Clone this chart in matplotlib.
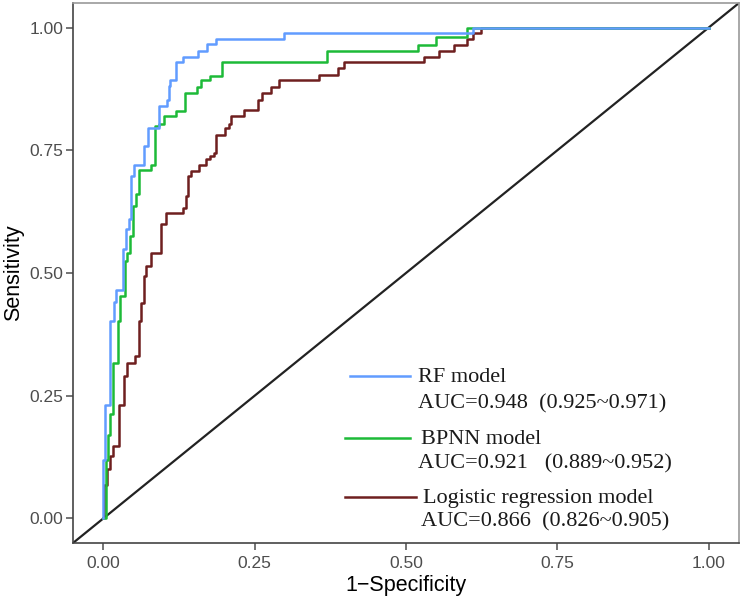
"""
ROC curves for RF, BPNN and logistic regression models.
Saves out.png (744x601).
"""

import matplotlib
matplotlib.use("Agg")
import matplotlib.pyplot as plt

# ── Data (step points: fpr, tpr) ───────────────────────────────────────────────

rf_fpr = [0, 0, 0.0025, 0.0119, 0.0173, 0.0218, 0.033, 0.0371, 0.0425, 0.0458,
          0.0508, 0.0668, 0.0734, 0.0915, 0.1047, 0.108, 0.1096, 0.1195, 0.1311,
          0.1558, 0.1707, 0.1866, 0.299, 0.61, 1.0]
rf_tpr = [0, 0.120, 0.232, 0.402, 0.440, 0.466, 0.548, 0.589, 0.609, 0.697,
          0.721, 0.758, 0.796, 0.841, 0.853, 0.880, 0.894, 0.929, 0.940,
          0.952, 0.967, 0.977, 0.989, 1.0, 1.0]

bp_fpr = [0, 0.0041, 0.0079, 0.0119, 0.0162, 0.0244, 0.0284, 0.0366, 0.0392,
          0.0437, 0.0491, 0.0547, 0.059, 0.0795, 0.0854, 0.092, 0.0998, 0.1195,
          0.1355, 0.1547, 0.1619, 0.1768, 0.1959, 0.369, 0.52, 0.55, 0.60, 1.0]
bp_tpr = [0, 0.120, 0.171, 0.212, 0.317, 0.402, 0.453, 0.524, 0.541,
          0.575, 0.636, 0.660, 0.709, 0.721, 0.799, 0.804, 0.819, 0.830,
          0.867, 0.879, 0.894, 0.902, 0.929, 0.953, 0.965, 0.980, 1.0, 1.0]

lr_fpr = [0, 0.0016, 0.0058, 0.0119, 0.0162, 0.0261, 0.0338, 0.0392, 0.0519,
          0.059, 0.063, 0.0668, 0.0712, 0.0795, 0.096, 0.1042, 0.1316, 0.136,
          0.1398, 0.1454, 0.158, 0.1702, 0.1756, 0.1822, 0.1866, 0.2003, 0.2074,
          0.2114, 0.2317, 0.2552, 0.2625, 0.2773, 0.2899, 0.357, 0.3871, 0.3982,
          0.53, 0.555, 0.58, 0.60, 0.61, 0.624, 1.0]
lr_tpr = [0, 0.069, 0.0998, 0.127, 0.147, 0.232, 0.290, 0.317, 0.331,
          0.402, 0.439, 0.493, 0.514, 0.541, 0.599, 0.623, 0.633, 0.656,
          0.697, 0.707, 0.721, 0.733, 0.738, 0.745, 0.782, 0.796, 0.804,
          0.819, 0.833, 0.853, 0.867, 0.879, 0.893, 0.904, 0.918, 0.929,
          0.940, 0.952, 0.965, 0.977, 0.989, 1.0, 1.0]

model_names = ["RF model", "BPNN model", "Logistic regression model"]
auc_labels = ["AUC=0.948  (0.925~0.971)",
              "AUC=0.921   (0.889~0.952)",
              "AUC=0.866  (0.826~0.905)"]

ticks = [0.0, 0.25, 0.5, 0.75, 1.0]
tick_labels = ["0.00", "0.25", "0.50", "0.75", "1.00"]

# ── Style ──────────────────────────────────────────────────────────────────────

C_RF  = "#619CFF"
C_BP  = "#1DBA38"
C_LR  = "#6E1F1F"
TICK  = "#4D4D4D"

W, H = 744, 601
fig = plt.figure(figsize=(W / 100, H / 100), dpi=100)
ax = fig.add_axes([73 / W, 1 - 543 / H, (739 - 73) / W, (543 - 3) / H])

ax.set_xlim(-0.05, 1.05)
ax.set_ylim(-0.05, 1.05)

# diagonal reference
ax.plot([-0.05, 1.05], [-0.05, 1.05], color="#222222", lw=1.6, zorder=1)

ax.step(lr_fpr, lr_tpr, where="post", color=C_LR, lw=1.8, zorder=2)
ax.step(bp_fpr, bp_tpr, where="post", color=C_BP, lw=1.8, zorder=3)
ax.step(rf_fpr, rf_tpr, where="post", color=C_RF, lw=1.8, zorder=4)

# ── Axes ───────────────────────────────────────────────────────────────────────

ax.set_xticks(ticks)
ax.set_xticklabels(tick_labels)
ax.set_yticks(ticks)
ax.set_yticklabels(tick_labels)
ax.tick_params(colors=TICK, labelsize=12.5, length=5, width=1.1, pad=2,
               labelfontfamily="Liberation Sans")
ax.tick_params(axis="x", pad=4)

ax.set_xlabel("1\u2212Specificity", fontsize=15.5, family="Liberation Sans",
              labelpad=3)
ax.set_ylabel("Sensitivity", fontsize=15.5, family="Liberation Sans",
              labelpad=4)

for side in ("left", "bottom"):
    ax.spines[side].set_color("#444444")
    ax.spines[side].set_linewidth(1.2)
for side in ("top", "right"):
    ax.spines[side].set_color("#999999")
    ax.spines[side].set_linewidth(1.2)

# ── Legend (hand placed, serif) ────────────────────────────────────────────────

def px(x, y):
    return x / W, 1 - y / H

serif = dict(family="Liberation Serif", fontsize=16, color="#1a1a1a",
             va="center", ha="left")
colors = [C_RF, C_BP, C_LR]
line_y = [376, 438, 497]
line_x = [(350, 410), (345, 410), (345, 416)]
name_pos = [(418, 377), (421, 440), (423, 499)]
auc_pos = [(418, 404), (418, 464), (421, 522)]
for c, ly, (x0, x1), nm, npos, auc, apos in zip(colors, line_y, line_x,
                                                 model_names, name_pos,
                                                 auc_labels, auc_pos):
    fig.add_artist(plt.Line2D([x0 / W, x1 / W], [1 - ly / H, 1 - ly / H],
                              color=c, lw=1.8))
    fig.text(*px(*npos), nm, **serif)
    fig.text(*px(*apos), auc, **serif)

fig.savefig("out.png", dpi=100, facecolor="white")
